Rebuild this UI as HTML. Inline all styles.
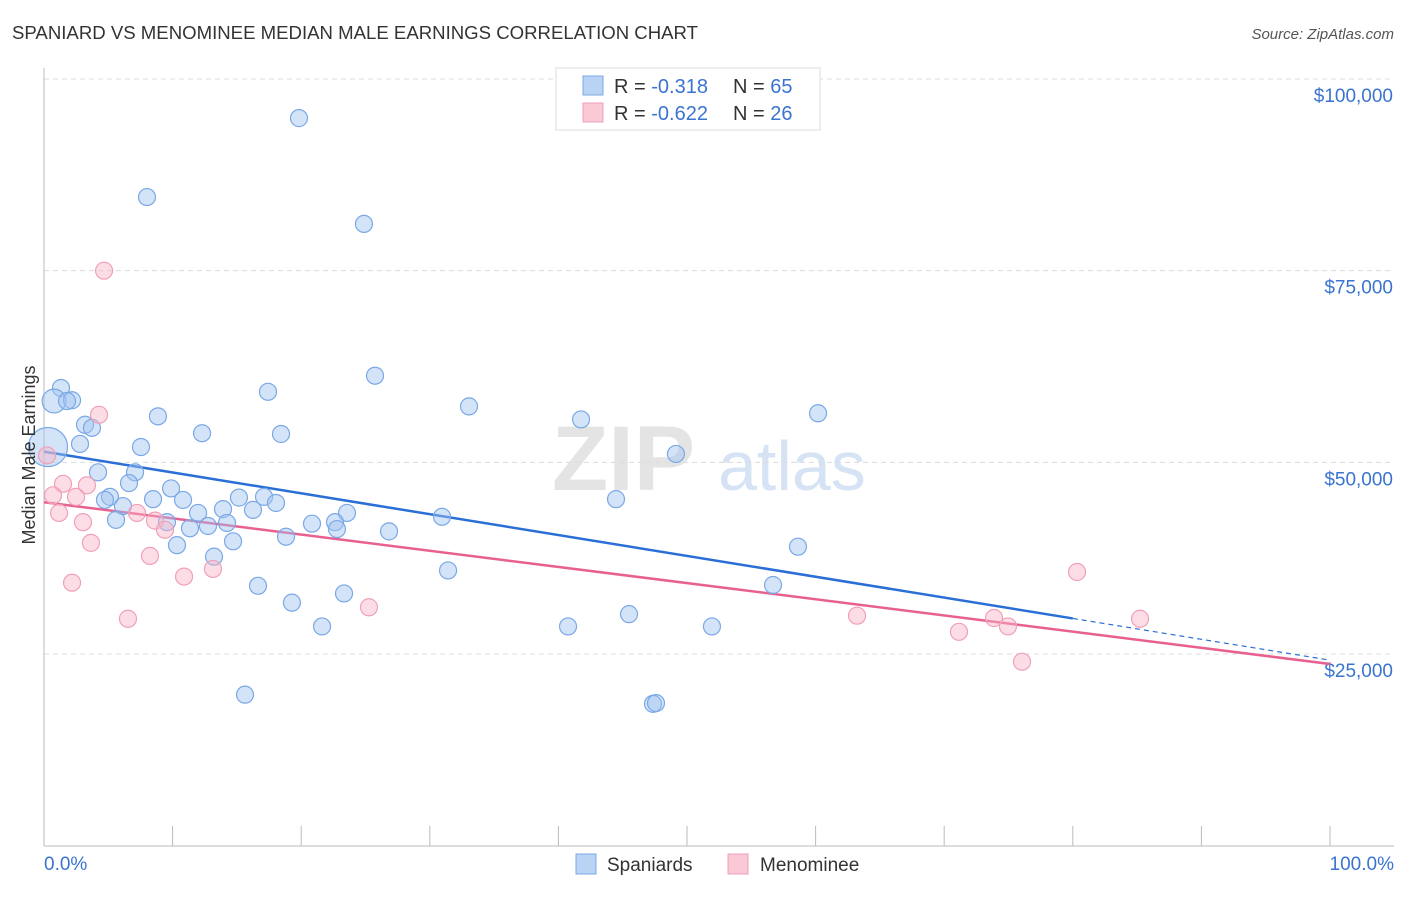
<!DOCTYPE html>
<html><head><meta charset="utf-8"><style>
body{margin:0;background:#fff;font-family:"Liberation Sans",sans-serif;}
svg text{font-family:"Liberation Sans",sans-serif;}
</style></head><body>
<svg id="chart" width="1406" height="892" xmlns="http://www.w3.org/2000/svg">
<text x="12" y="39" font-size="18.6" fill="#333">SPANIARD VS MENOMINEE MEDIAN MALE EARNINGS CORRELATION CHART</text>
<text x="1394" y="39" font-size="15" fill="#555" font-style="italic" text-anchor="end">Source: ZipAtlas.com</text>
<g>
<text x="552" y="490" font-size="92" fill="#e4e4e4" font-family="Liberation Serif" font-weight="bold">ZIP</text>
<text x="718" y="490" font-size="70" fill="#d6e3f5">atlas</text>
</g>
<g id="grid"></g>
<g id="axes"></g>
<g id="lines"></g>
<g id="pts"></g>
<text transform="translate(35,455) rotate(-90)" font-size="18" fill="#333" text-anchor="middle">Median Male Earnings</text>
<g>
<rect x="556" y="68" width="264" height="62" fill="#fff" stroke="#ddd"/>
<rect x="583" y="76" width="20" height="19" fill="#b9d3f5" stroke="#7aa8e6"/>
<rect x="583" y="103" width="20" height="19" fill="#f9c9d6" stroke="#f0a0b8"/>
<text x="614" y="93" font-size="20" fill="#333">R = <tspan fill="#3a74d0"> -0.318</tspan><tspan x="733">N = </tspan><tspan fill="#3a74d0">65</tspan></text>
<text x="614" y="120" font-size="20" fill="#333">R = <tspan fill="#3a74d0">-0.622</tspan><tspan x="733">N = </tspan><tspan fill="#3a74d0">26</tspan></text>
</g>
<g>
<rect x="576" y="854" width="20" height="20" fill="#b9d3f5" stroke="#7aa8e6"/>
<text x="607" y="871" font-size="19" fill="#333">Spaniards</text>
<rect x="728" y="854" width="20" height="20" fill="#f9c9d6" stroke="#f0a0b8"/>
<text x="760" y="871" font-size="19" fill="#333">Menominee</text>
</g>
</svg>
<script>
const yTicks=[25000,50000,75000,100000];
const yTickLabels=["$25,000","$50,000","$75,000","$100,000"];
const xTickValues=[0,10,20,30,40,50,60,70,80,90,100];
const xAxisLabels=["0.0%","100.0%"];
const blueX=[19.83,8.01,24.88,25.74,17.42,1.32,0.78,2.18,1.79,8.86,33.05,41.76,60.19,3.19,3.73,12.29,18.43,2.80,7.54,0.31,49.14,4.20,7.08,6.61,9.88,5.13,4.74,8.48,10.81,15.16,17.11,18.04,6.14,13.92,16.25,11.98,5.60,9.56,23.56,30.95,20.84,22.63,22.78,11.35,12.75,14.23,14.70,18.82,26.83,10.34,13.22,44.48,58.63,31.42,16.64,56.69,23.33,19.28,45.49,40.75,21.62,51.94,15.63,47.36,47.59];
const blueY=[94.9,84.6,81.1,61.3,59.2,59.7,58.0,58.1,58.0,56.0,57.3,55.6,56.4,54.9,54.5,53.8,53.7,52.4,52.0,52.0,51.1,48.7,48.7,47.3,46.6,45.5,45.1,45.2,45.1,45.4,45.5,44.7,44.3,43.9,43.8,43.4,42.5,42.2,43.4,42.9,42.0,42.2,41.3,41.4,41.7,42.1,39.7,40.3,41.0,39.2,37.7,45.2,39.0,35.9,33.9,34.0,32.9,31.7,30.2,28.6,28.6,28.6,19.7,18.5,18.6];
const blueSize=[1,1,1,1,1,1,1.4,1,1,1,1,1,1,1,1,1,1,1,1,2.3,1,1,1,1,1,1,1,1,1,1,1,1,1,1,1,1,1,1,1,1,1,1,1,1,1,1,1,1,1,1,1,1,1,1,1,1,1,1,1,1,1,1,1,1,1];
const pinkX=[4.67,4.28,0.23,1.48,3.34,0.70,2.49,1.17,7.23,8.63,3.03,9.41,3.65,8.24,13.14,10.89,2.18,6.53,25.27,63.22,71.15,73.87,74.96,76.05,80.33,85.23];
const pinkY=[75.0,56.2,50.9,47.2,47.0,45.7,45.5,43.4,43.4,42.4,42.2,41.2,39.5,37.8,36.1,35.1,34.3,29.6,31.1,30.0,27.9,29.7,28.6,24.0,35.7,29.6];
const blueTrend=[51.4,24.2];
const pinkTrend=[44.8,23.7];
const blueSolidEnd=80;

const NS="http://www.w3.org/2000/svg";
const X0=44,X1=1330,Y0=845.7,PXK=7.667;
const sx=v=>X0+(X1-X0)*v/100;
const sy=k=>Y0-k*PXK;
function mk(tag,attrs,parent){const e=document.createElementNS(NS,tag);for(const k in attrs)e.setAttribute(k,attrs[k]);parent.appendChild(e);return e;}
const grid=document.getElementById('grid'),axes=document.getElementById('axes'),lines=document.getElementById('lines'),pts=document.getElementById('pts');
yTicks.forEach((t,i)=>{
  const y=sy(t/1000);
  const g=mk('line',{x1:44,x2:1394,y1:y,y2:y,stroke:'#dcdcdc','stroke-dasharray':'5,4'},grid);
  
  
  const tx=mk('text',{x:1393,y:y+23,'font-size':19,fill:'#3a74d0','text-anchor':'end'},axes);
  tx.textContent=yTickLabels[i];
  
  
});
const ax=mk('line',{x1:44,x2:1394,y1:846,y2:846,stroke:'#bbb'},axes);


const ay=mk('line',{x1:44,x2:44,y1:68,y2:846,stroke:'#bbb'},axes);


xTickValues.forEach(v=>{
  const t=mk('line',{x1:sx(v),x2:sx(v),y1:826,y2:846,stroke:'#bbb'},axes);
  
  
});
const xl0=mk('text',{x:44,y:870,'font-size':19,fill:'#3a74d0'},axes);xl0.textContent=xAxisLabels[0];


const xl1=mk('text',{x:1394,y:870,'font-size':19,fill:'#3a74d0','text-anchor':'end'},axes);xl1.textContent=xAxisLabels[1];



function pt(x,y,r,fill,stroke,name){
  const c=mk('circle',{cx:sx(x),cy:sy(y),r:r,fill:fill,stroke:stroke,'stroke-width':1.2},pts);
  
  
}
blueX.forEach((x,i)=>pt(x,blueY[i],8.5*blueSize[i],'rgba(160,196,240,0.45)','#7aa8e6','spaniard-point'));
pinkX.forEach((x,i)=>pt(x,pinkY[i],8.5,'rgba(248,180,200,0.45)','#f0a0b8','menominee-point'));

const bAt=v=>blueTrend[0]+(blueTrend[1]-blueTrend[0])*v/100;
const pAt=v=>pinkTrend[0]+(pinkTrend[1]-pinkTrend[0])*v/100;
const l1=mk('line',{x1:sx(0),y1:sy(bAt(0)),x2:sx(blueSolidEnd),y2:sy(bAt(blueSolidEnd)),stroke:'#2a6fd6','stroke-width':2.5},lines);


const l2=mk('line',{x1:sx(blueSolidEnd),y1:sy(bAt(blueSolidEnd)),x2:sx(100),y2:sy(bAt(100)),stroke:'#2a6fd6','stroke-width':1.2,'stroke-dasharray':'5,4'},lines);


const l3=mk('line',{x1:sx(0),y1:sy(pAt(0)),x2:sx(100),y2:sy(pAt(100)),stroke:'#e8608f','stroke-width':2.5},lines);


</script>
</body></html>
